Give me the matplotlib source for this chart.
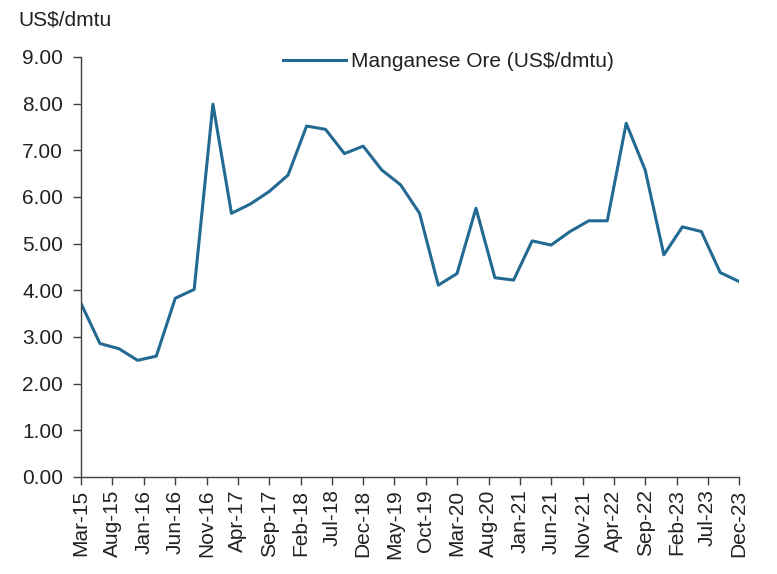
import pandas as pd
import matplotlib
matplotlib.use("Agg")
import matplotlib.pyplot as plt
import matplotlib.dates as mdates

plt.rcParams['font.family'] = ['Liberation Sans', 'DejaVu Sans']

# quarterly prices, Mar-15 .. Dec-23
dates = pd.date_range("2015-03-01", "2023-12-01", freq="3MS")
prices = [3.72, 2.86, 2.75, 2.50,
          2.59, 3.83, 4.02, 7.99,
          5.65, 5.85, 6.12, 6.47,
          7.52, 7.45, 6.93, 7.09,
          6.58, 6.26, 5.65, 4.11,
          4.36, 5.76, 4.27, 4.22,
          5.06, 4.97, 5.26, 5.49,
          5.49, 7.58, 6.58, 4.76,
          5.36, 5.26, 4.38, 4.19]
tick_dates = pd.date_range("2015-03-01", "2023-12-01", freq="5MS")
series_name = "Manganese Ore (US$/dmtu)"
unit_label = "US$/dmtu"

fig = plt.figure(figsize=(7.77, 5.74), dpi=100)
ax = fig.add_axes([81/777, 1 - 477/574, (739 - 81)/777, (477 - 57)/574])

ax.plot(dates, prices, color="#236A93", lw=2.2, label=series_name)

ax.set_xlim(dates[0], dates[-1])
ax.set_ylim(0, 9)
ax.set_yticks(range(0, 10))
ax.yaxis.set_major_formatter(matplotlib.ticker.FormatStrFormatter("%.2f"))
ax.set_xticks(tick_dates)
ax.xaxis.set_major_formatter(mdates.DateFormatter("%b-%y"))

for s in ["top", "right"]:
    ax.spines[s].set_visible(False)
for s in ["left", "bottom"]:
    ax.spines[s].set_color("#404040")
    ax.spines[s].set_linewidth(1.0)

ax.tick_params(axis="both", colors="#404040", length=6, width=1.0,
               labelsize=15, labelcolor="#222222")
ax.tick_params(axis="x", rotation=90, pad=3)
ax.tick_params(axis="y", pad=7)

fig.text(18/777, 1 - 20/574, unit_label, fontsize=15, color="#222222",
         ha="left", va="center")

ax.legend(loc="upper left", bbox_to_anchor=(0.279, 1.057), frameon=False,
          fontsize=15, handlelength=3.0, handletextpad=0.25,
          labelcolor="#222222")

fig.savefig("out.png", dpi=100)
